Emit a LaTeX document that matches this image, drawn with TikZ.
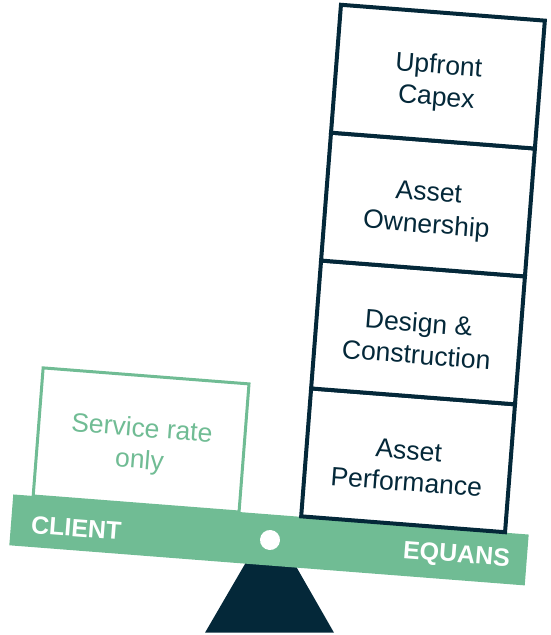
\documentclass[tikz,border=0pt]{standalone}
\usepackage{fontspec}
\setmainfont{Liberation Sans}
\usetikzlibrary{positioning}
\definecolor{eqgreen}{RGB}{112,188,148}
\definecolor{eqnavy}{RGB}{4,40,57}

\begin{document}
\begin{tikzpicture}[x=1pt,y=1pt,
  stackbox/.style={rectangle,draw=eqnavy,line width=4pt,fill=white,minimum width=204.5pt,minimum height=128.3pt,outer sep=0pt,inner sep=0pt},
  clientbox/.style={rectangle,draw=eqgreen,line width=3pt,fill=white,minimum width=206.5pt,minimum height=128.5pt,outer sep=0pt,inner sep=0pt},
  boxtext/.style={align=center,inner sep=0pt,yshift=-6pt,font=\fontsize{26.5}{32}\selectfont},
  beamlabel/.style={font=\fontsize{25}{30}\selectfont\bfseries,text=white,inner sep=0pt}]
\useasboundingbox (0,0) rectangle (550,635);
% fulcrum
\fill[eqnavy] (205,2.3) -- (270,114) -- (334,2.3) -- cycle;
\begin{scope}[shift={(270,95)},rotate=-4.45,transform shape]
\node[rectangle,fill=eqgreen,minimum width=517pt,minimum height=51pt,inner sep=0pt] (beam) at (-1,0) {};
\node[circle,fill=white,minimum size=20pt,inner sep=0pt] (pivot) at (0,0) {};
\node[beamlabel] (client) at (-194,-3) {CLIENT};
\node[beamlabel] (equans) at (187,-1.5) {EQUANS};

\node[clientbox,anchor=south,label={[boxtext,text=eqgreen]center:Service rate\\only}] (rate) at (-136.3,25.5) {};

\node[stackbox,anchor=south,label={[boxtext,text=eqnavy]center:Asset\\Performance}] (perf) at (131.5,26) {};
\node[stackbox,above=0pt of perf,label={[boxtext,text=eqnavy]center:Design \&\\Construction}] (design) {};
\node[stackbox,above=0pt of design,label={[boxtext,text=eqnavy]center:Asset\\Ownership}] (owner) {};
\node[stackbox,above=0pt of owner,label={[boxtext,text=eqnavy]center:Upfront\\Capex}] (capex) {};
\end{scope}
\end{tikzpicture}
\end{document}
